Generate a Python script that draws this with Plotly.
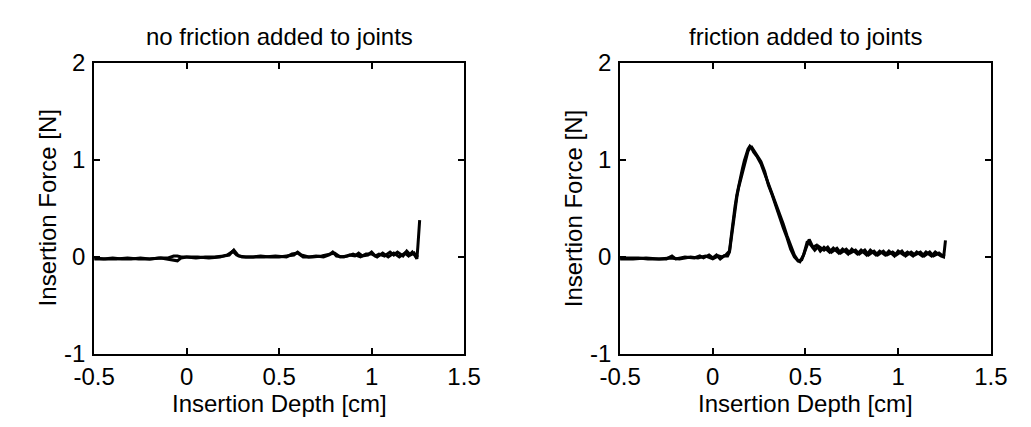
import plotly.graph_objects as go

# Insertion force vs. insertion depth, two passes per condition
# --- no friction added to joints ---
depth_nf_a = [-0.50, -0.45, -0.40, -0.35, -0.30, -0.25, -0.20, -0.15, -0.10, -0.07,
              -0.05, -0.03, 0.00, 0.05, 0.10, 0.15, 0.20, 0.23, 0.255, 0.28,
              0.32, 0.36, 0.40, 0.45, 0.50, 0.55, 0.58, 0.60, 0.62, 0.66,
              0.70, 0.74, 0.77, 0.79, 0.81, 0.85, 0.88, 0.91, 0.93, 0.95,
              0.98, 1.00, 1.02, 1.04, 1.07, 1.10, 1.12, 1.14, 1.17, 1.19,
              1.21, 1.23, 1.245, 1.25, 1.255, 1.26]
force_nf_a = [-0.02, -0.02, -0.01, -0.02, -0.02, -0.01, -0.02, -0.01, -0.01, 0.01,
              0.01, 0.00, 0.00, -0.01, 0.00, 0.00, 0.01, 0.02, 0.07, 0.01,
              0.00, 0.00, 0.01, 0.00, 0.00, 0.01, 0.02, 0.05, 0.02, 0.00,
              0.01, 0.00, 0.02, 0.05, 0.01, 0.00, 0.02, 0.01, 0.04, 0.01,
              0.02, 0.05, 0.01, 0.03, 0.01, 0.05, 0.02, 0.05, 0.01, 0.06,
              0.02, 0.04, -0.02, 0.10, 0.28, 0.38]

depth_nf_b = [-0.50, -0.44, -0.38, -0.32, -0.26, -0.20, -0.14, -0.10, -0.07, -0.05,
              -0.03, 0.00, 0.06, 0.12, 0.18, 0.22, 0.25, 0.27, 0.30, 0.35,
              0.42, 0.48, 0.54, 0.57, 0.60, 0.63, 0.68, 0.73, 0.77, 0.80,
              0.83, 0.87, 0.90, 0.94, 0.97, 1.00, 1.03, 1.06, 1.09, 1.12,
              1.15, 1.18, 1.20, 1.22, 1.24, 1.25]
force_nf_b = [-0.01, -0.02, -0.02, -0.01, -0.02, -0.02, -0.01, -0.02, -0.03, -0.04,
              -0.01, 0.00, 0.00, -0.01, 0.00, 0.02, 0.06, 0.02, 0.00, 0.00,
              0.00, 0.01, 0.00, 0.03, 0.04, 0.00, 0.00, 0.01, 0.03, 0.04,
              0.00, 0.01, 0.03, 0.00, 0.03, 0.03, 0.00, 0.04, 0.00, 0.04,
              0.00, 0.04, 0.01, 0.05, 0.00, 0.02]

# --- friction added to joints ---
depth_f_a = [-0.50, -0.45, -0.40, -0.35, -0.30, -0.25, -0.22, -0.20, -0.15, -0.10,
             -0.07, -0.05, -0.02, 0.00, 0.02, 0.04, 0.06, 0.08, 0.09, 0.10,
             0.11, 0.12, 0.13, 0.14, 0.15, 0.16, 0.17, 0.18, 0.19, 0.20,
             0.21, 0.22, 0.23, 0.24, 0.26, 0.28, 0.30, 0.32, 0.34, 0.36,
             0.38, 0.40, 0.42, 0.44, 0.46, 0.48, 0.50, 0.52, 0.54, 0.56,
             0.58, 0.60, 0.63, 0.65, 0.68, 0.70, 0.73, 0.75, 0.78, 0.80,
             0.83, 0.85, 0.88, 0.90, 0.93, 0.95, 0.98, 1.00, 1.03, 1.05,
             1.08, 1.10, 1.13, 1.15, 1.18, 1.20, 1.23, 1.245, 1.25, 1.255]
force_f_a = [-0.01, -0.01, -0.01, -0.02, -0.02, -0.02, 0.01, -0.02, 0.00, -0.01,
             0.01, -0.01, 0.02, -0.01, 0.02, -0.02, 0.01, 0.01, 0.05, 0.20,
             0.38, 0.50, 0.62, 0.72, 0.80, 0.88, 0.96, 1.04, 1.09, 1.12,
             1.13, 1.10, 1.07, 1.04, 0.98, 0.88, 0.74, 0.64, 0.52, 0.42,
             0.30, 0.20, 0.08, 0.00, -0.04, -0.03, 0.08, 0.18, 0.10, 0.12,
             0.06, 0.10, 0.05, 0.09, 0.04, 0.08, 0.03, 0.08, 0.03, 0.07,
             0.02, 0.07, 0.02, 0.06, 0.02, 0.06, 0.01, 0.06, 0.02, 0.05,
             0.01, 0.05, 0.01, 0.05, 0.01, 0.05, 0.01, 0.00, 0.08, 0.17]

depth_f_b = [-0.50, -0.43, -0.36, -0.29, -0.23, -0.18, -0.12, -0.08, -0.04, 0.00,
             0.03, 0.05, 0.07, 0.09, 0.10, 0.11, 0.12, 0.13, 0.14, 0.15,
             0.16, 0.17, 0.18, 0.19, 0.20, 0.21, 0.22, 0.24, 0.26, 0.28,
             0.30, 0.32, 0.34, 0.36, 0.38, 0.40, 0.42, 0.44, 0.46, 0.47,
             0.49, 0.51, 0.53, 0.55, 0.57, 0.60, 0.62, 0.64, 0.67, 0.69,
             0.72, 0.74, 0.77, 0.79, 0.82, 0.84, 0.87, 0.89, 0.92, 0.94,
             0.97, 0.99, 1.02, 1.04, 1.07, 1.09, 1.12, 1.14, 1.17, 1.19,
             1.22, 1.24, 1.25]
force_f_b = [-0.02, -0.02, -0.01, -0.02, -0.01, -0.02, 0.00, -0.01, 0.01, -0.02,
             0.01, 0.00, 0.02, 0.06, 0.22, 0.40, 0.52, 0.64, 0.74, 0.83,
             0.91, 0.99, 1.06, 1.11, 1.14, 1.12, 1.08, 1.03, 0.96, 0.86,
             0.76, 0.66, 0.56, 0.45, 0.34, 0.22, 0.11, 0.02, -0.04, -0.05,
             0.02, 0.16, 0.12, 0.07, 0.11, 0.07, 0.10, 0.05, 0.09, 0.04,
             0.08, 0.04, 0.07, 0.03, 0.07, 0.02, 0.06, 0.02, 0.06, 0.02,
             0.05, 0.02, 0.06, 0.01, 0.05, 0.02, 0.05, 0.01, 0.05, 0.01,
             0.04, 0.01, 0.03]

x_ticks = [-0.5, 0, 0.5, 1, 1.5]
x_tick_text = ["-0.5", "0", "0.5", "1", "1.5"]
y_ticks = [-1, 0, 1, 2]
y_tick_text = ["-1", "0", "1", "2"]

panel_titles = ["no friction added to joints", "friction added to joints"]
x_title = "Insertion Depth [cm]"
y_title = "Insertion Force [N]"

W, H = 1031, 427
FONT = "Liberation Sans, Arial, Helvetica, sans-serif"
FS = 24

# panel boxes in pixels: (left, right) ; shared top/bottom
panels_px = [(76, 460), (622, 1007)]
top_px, bottom_px = 52, 363

fig = go.Figure()
line = dict(color="black", width=3)

series = [
    (depth_nf_a, force_nf_a, "x", "y"),
    (depth_nf_b, force_nf_b, "x", "y"),
    (depth_f_a, force_f_a, "x2", "y2"),
    (depth_f_b, force_f_b, "x2", "y2"),
]
for xs, ys, xa, ya in series:
    fig.add_trace(go.Scatter(x=xs, y=ys, mode="lines", line=line,
                             xaxis=xa, yaxis=ya, showlegend=False,
                             hoverinfo="skip"))

axis_common = dict(
    showline=True, linecolor="black", linewidth=2, mirror="ticks",
    ticks="inside", ticklen=6, tickwidth=1.5, tickcolor="black",
    showgrid=False, zeroline=False,
    tickfont=dict(family=FONT, size=FS, color="black"),
)

layout = dict(
    width=W, height=H,
    margin=dict(l=0, r=0, t=0, b=0),
    paper_bgcolor="white", plot_bgcolor="white",
    font=dict(family=FONT, size=FS, color="black"),
)

ydom = [1 - bottom_px / H, 1 - top_px / H]
annotations = []
for i, (lpx, rpx) in enumerate(panels_px):
    sfx = "" if i == 0 else str(i + 1)
    layout["xaxis" + sfx] = dict(
        axis_common, domain=[lpx / W, rpx / W], range=[-0.5, 1.5],
        tickvals=x_ticks, ticktext=x_tick_text, anchor="y" + sfx,
        ticklabelstandoff=0,
    )
    layout["yaxis" + sfx] = dict(
        axis_common, domain=ydom, range=[-1, 2],
        tickvals=y_ticks, ticktext=y_tick_text, anchor="x" + sfx,
        ticklabelstandoff=2,
    )
    cx = (lpx + rpx) / 2 / W
    annotations.append(dict(text=panel_titles[i], x=cx, y=1 - 24 / H,
                            xref="paper", yref="paper", showarrow=False,
                            xanchor="center", yanchor="middle",
                            font=dict(family=FONT, size=FS, color="black")))
    annotations.append(dict(text=x_title, x=cx, y=1 - 416 / H,
                            xref="paper", yref="paper", showarrow=False,
                            xanchor="center", yanchor="middle",
                            font=dict(family=FONT, size=FS, color="black")))
    annotations.append(dict(text=y_title, x=(lpx - 49) / W,
                            y=1 - ((top_px + bottom_px) / 2) / H,
                            xref="paper", yref="paper", showarrow=False,
                            textangle=-90, xanchor="center", yanchor="middle",
                            font=dict(family=FONT, size=FS, color="black")))

layout["annotations"] = annotations
fig.update_layout(**layout)
fig.write_html("out.html")
